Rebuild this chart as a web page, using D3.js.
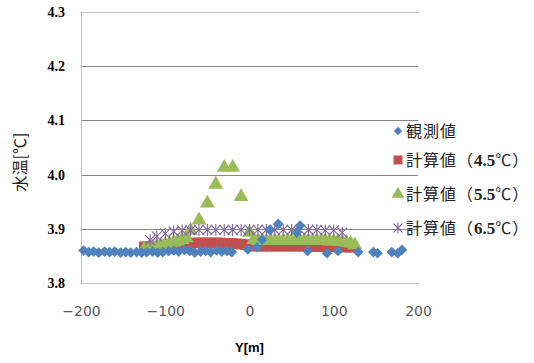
<!DOCTYPE html>
<html>
<head>
<meta charset="utf-8">
<script src="https://cdn.jsdelivr.net/npm/d3@7"></script>
<style>
  body { margin: 0; background: #fff; }
  svg { display: block; }
</style>
</head>
<body>
<div id="chart"></div>
<script>
// observed water temperature (blue diamonds)
const obsX = [-197, -191, -185, -179, -172, -166, -160, -153, -147, -141, -134, -128, -122, -115, -109, -103,
  -96, -90, -84, -77, -71, -65, -58, -52, -46, -39, -33, -27, -21, -2, 9, 15, 24, 34, 56, 60, 69, 92, 105,
  129, 147, 152, 169, 176, 181];
const obsY = [3.860, 3.857, 3.858, 3.856, 3.858, 3.857, 3.858, 3.856, 3.857, 3.856, 3.857, 3.856, 3.857, 3.858, 3.856, 3.857,
  3.859, 3.860, 3.858, 3.861, 3.859, 3.856, 3.858, 3.859, 3.857, 3.860, 3.858, 3.859, 3.857, 3.862, 3.866, 3.880, 3.898, 3.909, 3.893, 3.906, 3.859, 3.855, 3.859,
  3.857, 3.857, 3.855, 3.857, 3.855, 3.861];

// calculated 4.5℃ (red squares)
const calc45X = [-125, -120, -115, -110, -105, -100, -95, -90, -85, -80, -75, -70, -65, -60, -55, -50, -45, -40, -35, -30, -25, -20, -15, -10, -5,
  0, 5, 10, 15, 20, 25, 30, 35, 40, 45, 50, 55, 60, 65, 70, 75, 80, 85, 90, 95, 100, 105, 110, 115, 120];
const calc45Y = [3.867, 3.867, 3.868, 3.868, 3.868, 3.869, 3.869, 3.870, 3.871, 3.872, 3.873, 3.873, 3.874, 3.874, 3.874, 3.874, 3.874, 3.874, 3.874, 3.873, 3.873, 3.873, 3.872, 3.872, 3.871,
  3.869, 3.868, 3.868, 3.868, 3.868, 3.868, 3.868, 3.868, 3.868, 3.868, 3.868, 3.868, 3.868, 3.868, 3.868, 3.868, 3.867, 3.867, 3.867, 3.867, 3.867, 3.867, 3.867, 3.866, 3.866];

// calculated 5.5℃ (green triangles)
const calc55X = [-125, -120, -115, -110, -105, -100, -95, -90, -85, -80, -75, -70, -60, -50, -40, -30, -20, -10, 0,
  5, 10, 15, 20, 25, 30, 35, 40, 45, 50, 55, 60, 65, 70, 75, 80, 85, 90, 95, 100, 105, 110, 115, 120, 125];
const calc55Y = [3.862, 3.864, 3.866, 3.868, 3.870, 3.871, 3.873, 3.875, 3.877, 3.880, 3.883, 3.897, 3.916, 3.947, 3.982, 4.013, 4.013, 3.959, 3.893,
  3.880, 3.878, 3.878, 3.878, 3.878, 3.878, 3.878, 3.878, 3.878, 3.878, 3.878, 3.878, 3.878, 3.878, 3.878, 3.878, 3.878, 3.878, 3.877, 3.877, 3.877, 3.876, 3.875, 3.873, 3.870];

// calculated 6.5℃ (purple stars)
const calc65X = [-118, -110, -100, -90, -80, -70, -60, -50, -40, -30, -20, -10, 0, 10, 20, 30, 40, 50, 60, 70, 80, 90, 100, 110];
const calc65Y = [3.879, 3.886, 3.891, 3.895, 3.897, 3.897, 3.898, 3.898, 3.898, 3.898, 3.898, 3.898, 3.898, 3.898, 3.898, 3.898, 3.898, 3.898, 3.898, 3.898, 3.898, 3.897, 3.897, 3.893];

const xTicks = [-200, -100, 0, 100, 200];
const yTicks = [3.8, 3.9, 4.0, 4.1, 4.2, 4.3];
const legendLabels = ['観測値', '計算値（4.5℃）', '計算値（5.5℃）', '計算値（6.5℃）'];

const width = 534, height = 363;
const marginLeft = 81, marginRight = 116, marginTop = 12, marginBottom = 80;

const svg = d3.select('#chart').append('svg')
  .attr('width', width)
  .attr('height', height);

const x = d3.scaleLinear().domain([-200, 200]).range([marginLeft, width - marginRight]);
const y = d3.scaleLinear().domain([3.8, 4.3]).range([height - marginBottom, marginTop]);

// gridlines
svg.append('g')
  .selectAll('line')
  .data(yTicks.filter(d => d > 3.8 && d < 4.3))
  .join('line')
  .attr('x1', x(-200)).attr('x2', x(200))
  .attr('y1', d => Math.round(y(d)) + 0.5).attr('y2', d => Math.round(y(d)) + 0.5)
  .attr('stroke', '#868686');

// frame: top, left, bottom
const frame = svg.append('g').attr('stroke', '#c0c0c0').attr('fill', 'none');
frame.append('line')
  .attr('x1', x(-200)).attr('x2', x(200))
  .attr('y1', Math.round(y(4.3)) + 0.5).attr('y2', Math.round(y(4.3)) + 0.5);
frame.append('line')
  .attr('x1', Math.round(x(-200)) + 0.5).attr('x2', Math.round(x(-200)) + 0.5)
  .attr('y1', y(4.3)).attr('y2', y(3.8));
frame.append('line')
  .attr('x1', x(-200)).attr('x2', x(200))
  .attr('y1', Math.round(y(3.8)) + 0.5).attr('y2', Math.round(y(3.8)) + 0.5);

// y axis labels
const yAxis = d3.axisLeft(y).tickValues(yTicks).tickFormat(d3.format('.1f')).tickSize(0).tickPadding(16);
svg.append('g')
  .attr('transform', `translate(${marginLeft},0)`)
  .call(yAxis)
  .call(g => g.select('.domain').remove())
  .call(g => g.selectAll('text')
    .attr('font-family', '"Liberation Serif", serif')
    .attr('font-weight', 'bold')
    .attr('font-size', 14)
    .attr('fill', '#000'));

// x axis labels
const xAxis = d3.axisBottom(x).tickValues(xTicks).tickFormat(d => d < 0 ? '−' + Math.abs(d) : String(d)).tickSize(0).tickPadding(23);
svg.append('g')
  .attr('transform', `translate(0,${height - marginBottom})`)
  .call(xAxis)
  .call(g => g.select('.domain').remove())
  .call(g => g.selectAll('text')
    .attr('font-family', '"DejaVu Sans", sans-serif')
    .attr('font-size', 14)
    .attr('fill', '#595959'));

// axis titles
svg.append('text')
  .attr('x', x(0)).attr('y', 352)
  .attr('text-anchor', 'middle')
  .attr('font-family', '"Liberation Sans", sans-serif')
  .attr('font-weight', 'bold')
  .attr('font-size', 13)
  .text('Y[m]');

svg.append('text')
  .attr('transform', `translate(26,162) rotate(-90)`)
  .attr('text-anchor', 'middle')
  .attr('font-family', '"Noto Sans CJK JP", sans-serif')
  .attr('font-size', 16)
  .attr('fill', '#222')
  .text('水温[℃]');

const colors = ['#4F81BD', '#C0504D', '#9BBB59', '#8064A2'];
const symbolTypes = [d3.symbolDiamond2, d3.symbolSquare, d3.symbolTriangle, null];
const symbolSizes = [72, 110, 95, 0];

function drawStar(g, cx, cy, r, color) {
  const s = g.append('g').attr('stroke', color).attr('stroke-width', 1.1);
  s.append('line').attr('x1', cx - r).attr('x2', cx + r).attr('y1', cy - r).attr('y2', cy + r);
  s.append('line').attr('x1', cx - r).attr('x2', cx + r).attr('y1', cy + r).attr('y2', cy - r);
  s.append('line').attr('x1', cx).attr('x2', cx).attr('y1', cy - r - 1).attr('y2', cy + r + 1);
}

function drawSeries(xs, ys, i) {
  const g = svg.append('g');
  if (i === 3) {
    xs.forEach((d, k) => drawStar(g, x(d), y(ys[k]), 5, colors[i]));
  } else {
    g.selectAll('path')
      .data(xs.map((d, k) => [d, ys[k]]))
      .join('path')
      .attr('transform', d => `translate(${x(d[0])},${y(d[1])})`)
      .attr('d', d3.symbol(symbolTypes[i], symbolSizes[i]))
      .attr('fill', colors[i]);
  }
}

drawSeries(calc45X, calc45Y, 1);
drawSeries(calc55X, calc55Y, 2);
drawSeries(calc65X, calc65Y, 3);
drawSeries(obsX, obsY, 0);

// legend
const legendY = [131, 160, 194, 228];
const legend = svg.append('g');
legendLabels.forEach((label, i) => {
  const lx = 398, ly = legendY[i];
  if (i === 3) {
    drawStar(legend, lx, ly, 4.5, colors[i]);
  } else {
    legend.append('path')
      .attr('transform', `translate(${lx},${ly})`)
      .attr('d', d3.symbol(symbolTypes[i], [45, 80, 70][i]))
      .attr('fill', colors[i]);
  }
  const t = legend.append('text')
    .attr('x', 406).attr('y', ly + 6)
    .attr('font-family', '"Noto Sans CJK JP", sans-serif')
    .attr('font-size', 16)
    .attr('letter-spacing', 1)
    .attr('fill', '#222');
  const m = label.match(/^(.*（)([\d.]+)(℃）)$/);
  if (m) {
    t.append('tspan').text(m[1]);
    t.append('tspan').attr('font-family', '"Liberation Serif", serif').attr('font-weight', 'bold')
      .attr('font-size', 17).attr('letter-spacing', 0).text(m[2]);
    t.append('tspan').text(m[3]);
  } else {
    t.text(label);
  }
});
</script>
</body>
</html>
